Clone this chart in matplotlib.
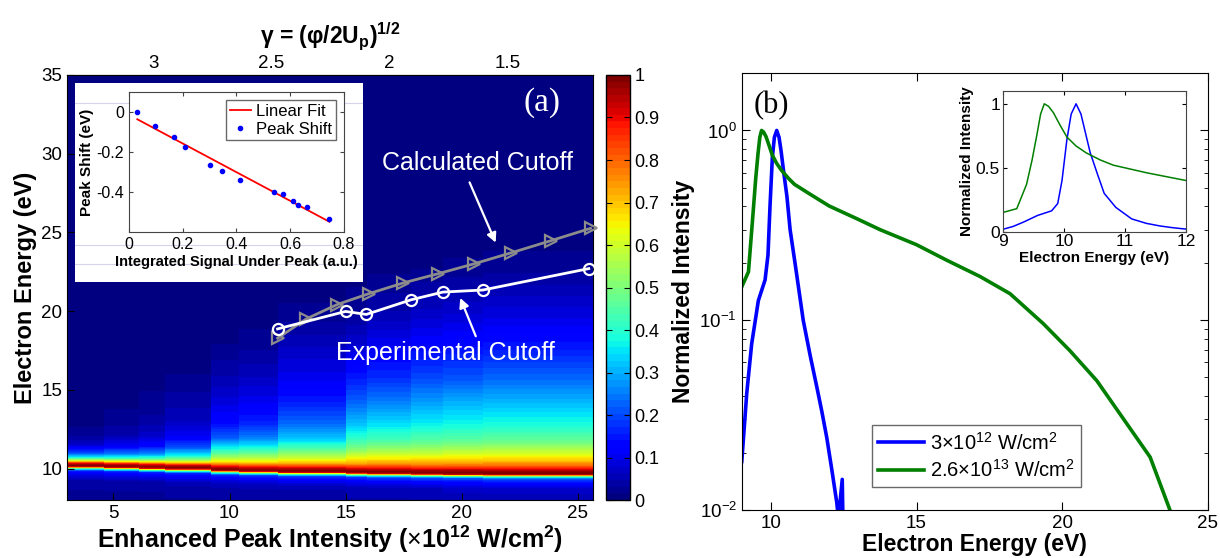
import numpy as np
import matplotlib
matplotlib.use('Agg')
import matplotlib.pyplot as plt
from matplotlib.cm import ScalarMappable
from matplotlib.colors import Normalize
from matplotlib.ticker import FormatStrFormatter

plt.rcParams['font.family'] = ['Liberation Sans', 'DejaVu Sans']
plt.rcParams['mathtext.fontset'] = 'custom'
plt.rcParams['mathtext.rm'] = 'Liberation Sans'
plt.rcParams['mathtext.it'] = 'Liberation Sans:italic'
plt.rcParams['mathtext.bf'] = 'Liberation Sans:bold'
plt.rcParams['axes.unicode_minus'] = False

# ---- panel (a): spectra vs. intensity (columns of the map) ----
int_edges = [3.0, 4.6, 6.1, 7.2, 9.2, 10.4, 12.1, 15.0, 15.9, 17.8, 19.2, 20.9, 25.65]
peak_energy = [10.2, 10.15, 10.1, 10.05, 9.95, 9.9, 9.85, 9.8, 9.77, 9.74, 9.72, 9.7]
offsets = [-3.0, -1.0, -0.6, -0.35, -0.2, -0.1, 0.0, 0.15, 0.3, 0.5, 0.8,
           1.3, 2.0, 3.0, 4.5, 6.0, 8.0, 10.0, 13.0, 16.0, 26.0]
spectra = [
    [0.01, 0.04, 0.10, 0.16, 0.45, 0.90, 1.0, 0.90, 0.62, 0.38, 0.20, 0.07, 0.02, 0.01, 0, 0, 0, 0, 0, 0, 0],
    [0.01, 0.04, 0.10, 0.16, 0.45, 0.90, 1.0, 0.90, 0.65, 0.42, 0.24, 0.11, 0.045, 0.02, 0.01, 0, 0, 0, 0, 0, 0],
    [0.01, 0.04, 0.10, 0.17, 0.46, 0.90, 1.0, 0.91, 0.68, 0.46, 0.28, 0.14, 0.07, 0.035, 0.018, 0.006, 0, 0, 0, 0, 0],
    [0.01, 0.05, 0.11, 0.17, 0.46, 0.90, 1.0, 0.92, 0.72, 0.52, 0.36, 0.21, 0.11, 0.06, 0.035, 0.015, 0, 0, 0, 0, 0],
    [0.02, 0.05, 0.11, 0.18, 0.47, 0.91, 1.0, 0.93, 0.80, 0.65, 0.53, 0.38, 0.22, 0.13, 0.08, 0.045, 0.015, 0, 0, 0, 0],
    [0.02, 0.05, 0.11, 0.18, 0.47, 0.91, 1.0, 0.93, 0.81, 0.67, 0.56, 0.41, 0.26, 0.16, 0.10, 0.06, 0.025, 0.005, 0, 0, 0],
    [0.02, 0.05, 0.12, 0.19, 0.48, 0.92, 1.0, 0.94, 0.83, 0.71, 0.60, 0.47, 0.33, 0.23, 0.15, 0.10, 0.06, 0.02, 0, 0, 0],
    [0.02, 0.06, 0.12, 0.19, 0.48, 0.92, 1.0, 0.94, 0.85, 0.74, 0.65, 0.53, 0.42, 0.32, 0.22, 0.15, 0.08, 0.03, 0.005, 0, 0],
    [0.02, 0.06, 0.12, 0.20, 0.49, 0.92, 1.0, 0.95, 0.86, 0.76, 0.67, 0.56, 0.44, 0.35, 0.25, 0.17, 0.11, 0.05, 0.01, 0, 0],
    [0.02, 0.06, 0.13, 0.20, 0.49, 0.93, 1.0, 0.95, 0.87, 0.77, 0.68, 0.57, 0.46, 0.37, 0.28, 0.20, 0.13, 0.07, 0.015, 0, 0],
    [0.02, 0.07, 0.13, 0.21, 0.50, 0.93, 1.0, 0.96, 0.88, 0.78, 0.69, 0.59, 0.47, 0.38, 0.30, 0.21, 0.14, 0.08, 0.02, 0, 0],
    [0.02, 0.07, 0.14, 0.22, 0.50, 0.93, 1.0, 0.96, 0.89, 0.79, 0.70, 0.60, 0.48, 0.39, 0.31, 0.23, 0.15, 0.09, 0.025, 0, 0],
]

# cutoff curves
calc_int = [12.07, 13.31, 14.64, 16.0, 17.48, 18.99, 20.52, 22.12, 23.83, 25.55]
calc_cut = [18.28, 19.51, 20.42, 21.11, 21.79, 22.38, 23.0, 23.7, 24.47, 25.26]
exp_int = [12.07, 15.0, 15.89, 17.82, 19.19, 20.91, 25.47]
exp_cut = [18.87, 19.98, 19.79, 20.72, 21.21, 21.34, 22.70]

# inset (a): peak shift
signal = [0.031, 0.096, 0.169, 0.21, 0.302, 0.348, 0.413, 0.54, 0.572, 0.611, 0.628, 0.663, 0.746]
shift = [0.0, -0.072, -0.125, -0.175, -0.267, -0.293, -0.34, -0.40, -0.41, -0.445, -0.463, -0.477, -0.535]

# ---- panel (b) ----
blue_e = [9.0, 9.17, 9.34, 9.57, 9.8, 9.9, 9.97, 10.05, 10.12, 10.2, 10.28, 10.35, 10.43,
          10.55, 10.66, 10.85, 11.11, 11.35, 11.57, 11.75, 11.92, 12.1, 12.26, 12.32, 12.45, 12.5]
blue_i = [0.018, 0.041, 0.075, 0.127, 0.163, 0.22, 0.40, 0.72, 0.92, 1.0, 0.92, 0.78, 0.62,
          0.45, 0.30, 0.19, 0.10, 0.065, 0.045, 0.033, 0.024, 0.016, 0.011, 0.009, 0.0145, 0.005]
green_e = [9.0, 9.23, 9.39, 9.48, 9.56, 9.62, 9.68, 9.75, 9.83, 9.93, 10.05, 10.2, 10.37, 10.6,
           10.81, 11.36, 12.0, 13.0, 13.75, 15.0, 16.04, 17.18, 18.21, 19.35, 20.27, 21.19,
           21.99, 23.02, 23.7]
green_i = [0.15, 0.18, 0.37, 0.56, 0.76, 0.92, 1.0, 0.98, 0.93, 0.84, 0.74, 0.67, 0.615, 0.56,
           0.52, 0.46, 0.40, 0.34, 0.30, 0.25, 0.207, 0.17, 0.138, 0.096, 0.069, 0.048,
           0.032, 0.019, 0.01]

jet = plt.get_cmap('jet', 64)
fig = plt.figure(figsize=(12.2, 5.58), dpi=100)

# ======== panel (a) ========
ax = fig.add_axes([0.0549, 0.1039, 0.4311, 0.7617])
ax.set_facecolor('#00008f')
levels = np.linspace(0, 1, 65)
for i in range(len(peak_energy)):
    e = peak_energy[i] + np.array(offsets)
    v = np.array(spectra[i])
    ax.contourf([int_edges[i], int_edges[i + 1]], e, np.column_stack([v, v]),
                levels=levels, cmap=jet, vmin=0, vmax=1, extend='both')

ax.plot(calc_int, calc_cut, color='#8c8c8c', lw=2, marker='>', ms=9, mfc='none', mew=1.6,
        clip_on=False, zorder=5)
ax.plot(exp_int, exp_cut, color='white', lw=2, marker='o', ms=8, mfc='none', mew=1.6,
        clip_on=False, zorder=6)

ax.set_xlim(3, 25.65)
ax.set_ylim(8, 35)
ax.set_xticks([5, 10, 15, 20, 25])
ax.set_yticks([10, 15, 20, 25, 30, 35])
ax.tick_params(direction='in', length=5, labelsize=13.5, top=False, right=False)
ax.set_xlabel(r'Enhanced Peak Intensity ($\times$10$^\mathbf{12}$ W/cm$^\mathbf{2}$)',
              fontsize=18, fontweight='bold', labelpad=1)
ax.set_ylabel('Electron Energy (eV)', fontsize=17, fontweight='bold', labelpad=3)

ax.text(20.67, 29.4, 'Calculated Cutoff', color='white', fontsize=18, ha='center', va='center')
ax.annotate('', xy=(21.51, 24.19), xytext=(20.29, 28.34),
            arrowprops=dict(arrowstyle='-|>', color='white', lw=1.6, mutation_scale=14))
ax.text(19.32, 17.34, 'Experimental Cutoff', color='white', fontsize=18, ha='center', va='center')
ax.annotate('', xy=(19.89, 21.0), xytext=(20.65, 18.24),
            arrowprops=dict(arrowstyle='-|>', color='white', lw=1.6, mutation_scale=14))
ax.text(0.903, 0.936, '(a)', transform=ax.transAxes, color='white', fontsize=24,
        family='Liberation Serif', ha='center', va='center')


def to_gamma(x):
    return 3 - (x - 6.72) / 10.16


def from_gamma(g):
    return 6.72 + (3 - g) * 10.16


top = ax.secondary_xaxis('top', functions=(to_gamma, from_gamma))
top.set_xticks([3, 2.5, 2, 1.5])
top.set_xticklabels(['3', '2.5', '2', '1.5'])
top.tick_params(direction='in', length=5, labelsize=13.5, pad=2)
top.set_xlabel('γ = (φ/2U$_\\mathbf{p}$)$^\\mathbf{1/2}$', fontsize=16.5,
               fontweight='bold', labelpad=8)

cax = fig.add_axes([0.4967, 0.1039, 0.0193, 0.7617])
cb = fig.colorbar(ScalarMappable(norm=Normalize(0, 1), cmap=jet), cax=cax,
                  ticks=np.arange(0, 1.01, 0.1))
cb.ax.yaxis.set_major_formatter(FormatStrFormatter('%g'))
cb.ax.tick_params(direction='in', left=True, right=True, length=4, labelsize=13)
cb.outline.set_linewidth(1)

# inset (a)
bg = fig.add_axes([0.0615, 0.4946, 0.236, 0.3566])
bg.set_xticks([])
bg.set_yticks([])
for s in bg.spines.values():
    s.set_visible(False)
for yy in [0.90, 0.186, 0.09]:
    bg.axhline(yy, color='#d4d4ec', lw=0.8)

ins = fig.add_axes([0.1057, 0.5842, 0.1762, 0.2509])
fit = np.polyfit(signal, shift, 1)
fx = np.array([signal[0], signal[-1]])
ins.plot(fx, np.polyval(fit, fx), color='red', lw=1.3, label='Linear Fit')
ins.plot(signal, shift, '.', color='blue', ms=6, label='Peak Shift')
ins.set_xlim(0, 0.8)
ins.set_ylim(-0.6, 0.1)
ins.set_xticks([0, 0.2, 0.4, 0.6, 0.8])
ins.set_xticklabels(['0', '0.2', '0.4', '0.6', '0.8'])
ins.set_yticks([-0.4, -0.2, 0])
ins.set_yticklabels(['-0.4', '-0.2', '0'])
ins.tick_params(direction='in', length=3, labelsize=11.5, top=True, right=True, color='#444444')
for s in ins.spines.values():
    s.set_color('#444444')
    s.set_linewidth(0.8)
ins.set_xlabel('Integrated Signal Under Peak (a.u.)', fontsize=10.5, fontweight='bold', labelpad=2)
ins.set_ylabel('Peak Shift (eV)', fontsize=11, fontweight='bold', labelpad=2)
lg = ins.legend(loc='upper right', fontsize=12, fancybox=False, handlelength=1.3,
                borderaxespad=0.5, borderpad=0.2, labelspacing=0.2, handletextpad=0.3)
lg.get_frame().set_edgecolor('#444444')

# ======== panel (b) ========
axb = fig.add_axes([0.608, 0.086, 0.382, 0.7826])
axb.semilogy(blue_e, blue_i, color='#0000ff', lw=2.6, label=r'3$\times$10$^{12}$ W/cm$^2$')
axb.semilogy(green_e, green_i, color='#007f00', lw=2.6, label=r'2.6$\times$10$^{13}$ W/cm$^2$')
axb.set_xlim(9, 25)
axb.set_ylim(0.01, 2)
axb.set_xticks([10, 15, 20, 25])
axb.tick_params(which='both', direction='in', top=True, right=True, labelsize=13.5)
axb.tick_params(which='major', length=6)
axb.tick_params(which='minor', length=3)
axb.set_xlabel('Electron Energy (eV)', fontsize=16.5, fontweight='bold', labelpad=1)
axb.set_ylabel('Normalized Intensity', fontsize=16.5, fontweight='bold', labelpad=3)
axb.text(0.064, 0.927, '(b)', transform=axb.transAxes, fontsize=22,
         family='Liberation Serif', ha='center', va='center')
lgb = axb.legend(loc='lower left', bbox_to_anchor=(0.279, 0.052), borderaxespad=0,
                 fontsize=14.5, fancybox=False, handlelength=2.3, handletextpad=0.3,
                 borderpad=0.3, labelspacing=0.3)
lgb.get_frame().set_edgecolor('#444444')

insb = fig.add_axes([0.8219, 0.5848, 0.1503, 0.2521])
insb.plot(blue_e, blue_i, color='#0000ff', lw=1.1)
insb.plot(green_e, green_i, color='#007f00', lw=1.1)
insb.set_xlim(9, 12)
insb.set_ylim(0, 1.1)
insb.set_xticks([9, 10, 11, 12])
insb.set_yticks([0, 0.5, 1])
insb.set_yticklabels(['0', '0.5', '1'])
insb.tick_params(direction='in', length=3, labelsize=12.5, top=True, right=True, pad=2)
for s in insb.spines.values():
    s.set_color('#444444')
    s.set_linewidth(0.8)
insb.set_xlabel('Electron Energy (eV)', fontsize=11, fontweight='bold', labelpad=1)
insb.set_ylabel('Normalized Intensity', fontsize=11, fontweight='bold', labelpad=1)

fig.savefig('out.png', dpi=100)
